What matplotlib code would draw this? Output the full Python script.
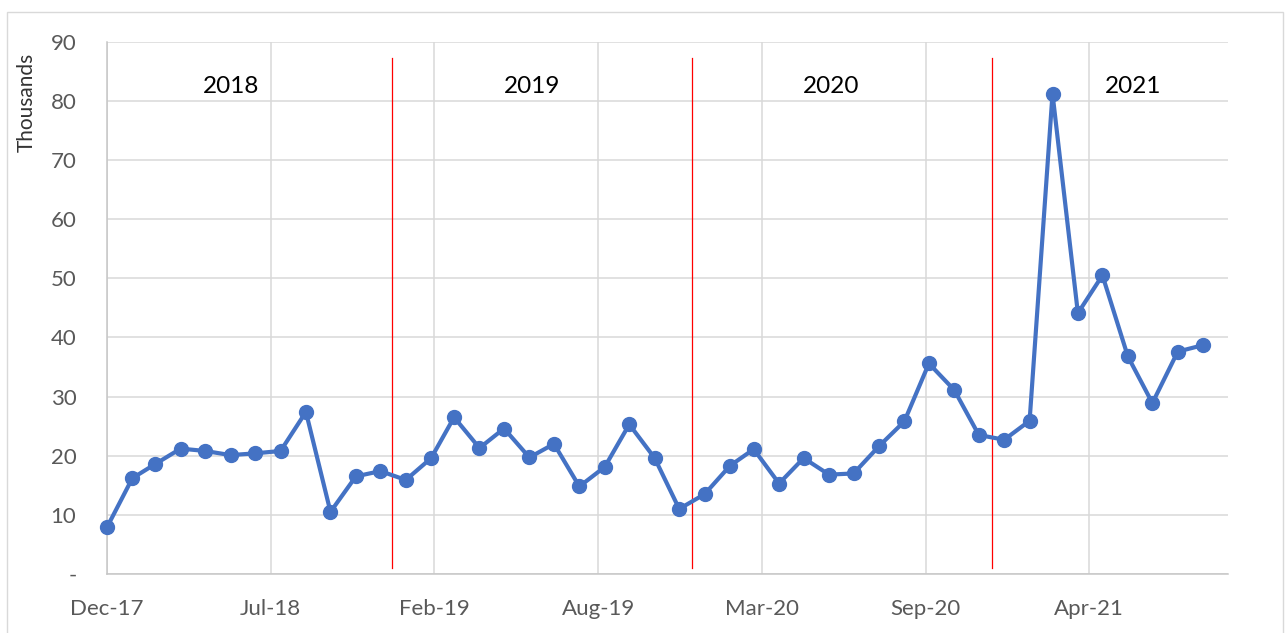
import matplotlib
matplotlib.use("Agg")
import matplotlib.pyplot as plt
import matplotlib.dates as mdates
from matplotlib.patches import Rectangle
from matplotlib.ticker import FuncFormatter
import pandas as pd
import datetime as dt

# ---- data ----
start_month = "2017-12-31"
end_month = "2021-08-31"
values = [7.9, 16.2, 18.6, 21.2, 20.8, 20.1, 20.4, 20.8, 27.4, 10.5,
          16.5, 17.4, 15.9, 19.6, 26.5, 21.3, 24.6, 19.7, 22.0, 14.8,
          18.1, 25.3, 19.6, 11.0, 13.5, 18.3, 21.1, 15.3, 19.6, 16.8,
          17.0, 21.6, 25.8, 35.6, 31.1, 23.5, 22.7, 25.9, 81.2, 44.1,
          50.5, 36.8, 28.9, 37.6, 38.7]
year_labels = ["2018", "2019", "2020", "2021"]
year_label_dates = ["2018-06-01", "2019-06-03", "2020-06-02", "2021-06-06"]
year_dividers = ["2018-12-14", "2019-12-16", "2020-12-16"]
y_ticks = [0, 10, 20, 30, 40, 50, 60, 70, 80, 90]

dates = pd.date_range(start_month, end_month, freq="ME")

plt.rcParams['font.family'] = ['Lato', 'DejaVu Sans']

fig = plt.figure(figsize=(12.85, 6.33), dpi=100)
ax = fig.add_axes([107/1285, 1 - 574/633, (1227.7 - 107)/1285, (574 - 41.7)/633])

grid_c = '#D9D9D9'
spine_c = '#C6C6C6'
blue = '#4472C4'

ax.plot(dates, values, color=blue, lw=3.0, marker='o', markersize=10,
        markerfacecolor=blue, markeredgecolor=blue, zorder=5,
        solid_joinstyle='round', clip_on=False)

# date axis, ticks every 200 days from first point
x0 = dt.datetime(2017, 12, 31)
ticks = [x0 + dt.timedelta(days=200 * i) for i in range(7)]
ax.set_xlim(x0, dt.datetime(2021, 9, 30))
ax.set_ylim(0, 90)
ax.set_xticks(ticks)
ax.xaxis.set_major_formatter(mdates.DateFormatter('%b-%y'))
ax.set_yticks(y_ticks)
ax.yaxis.set_major_formatter(FuncFormatter(lambda v, p: '-' if v == 0 else f'{int(v)}'))

ax.grid(True, color=grid_c, lw=1.1, zorder=0)
ax.set_axisbelow(True)
for s in ['top', 'right']:
    ax.spines[s].set_visible(False)
for s in ['left', 'bottom']:
    ax.spines[s].set_color(spine_c)
    ax.spines[s].set_linewidth(1.1)

ax.tick_params(axis='both', length=0, labelsize=16, labelcolor='#595959')
ax.tick_params(axis='y', pad=22)
ax.tick_params(axis='x', pad=18)

# year dividers
for d in year_dividers:
    ax.plot([pd.Timestamp(d)] * 2, [1.0, 87.3], color='#FF0000', lw=0.9, zorder=3)

# year labels
for lab, d in zip(year_labels, year_label_dates):
    ax.text(pd.Timestamp(d), 82.4, lab, ha='center', va='center', fontsize=17.5,
            color='black', zorder=6)

fig.text(27/1285, 1 - 102/633, 'Thousands', rotation=90, ha='center', va='center',
         fontsize=15, color='#333333')

# chart frame
fig.patches.append(Rectangle((6.7/1285, -0.02), (1283.3 - 6.7)/1285, 1 - 11.7/633 + 0.02,
                             transform=fig.transFigure, fill=False, edgecolor=grid_c, lw=1.0))

fig.savefig('out.png', dpi=100)
